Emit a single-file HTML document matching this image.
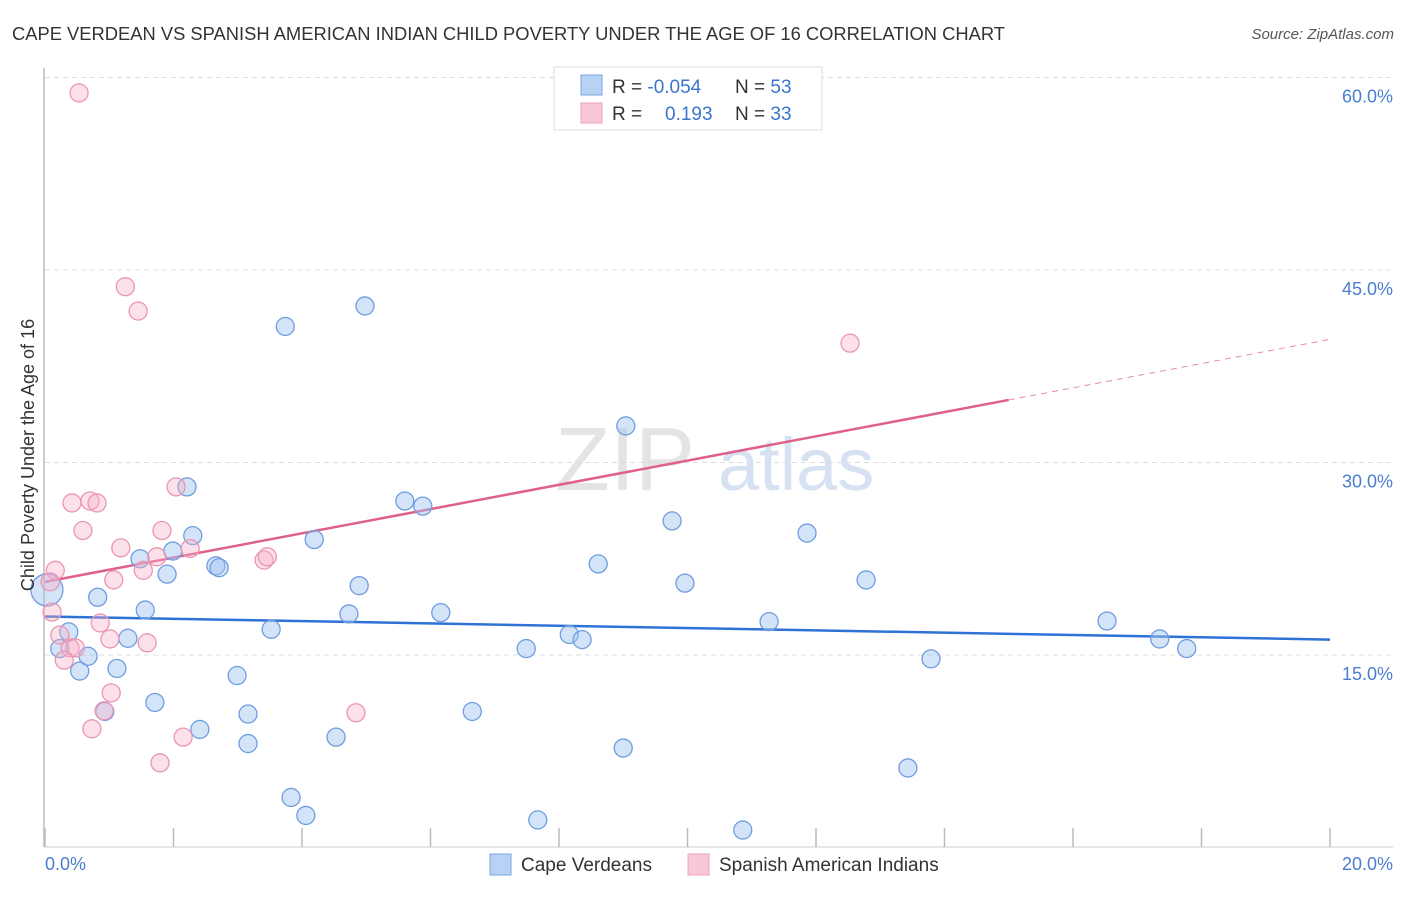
<!DOCTYPE html>
<html><head><meta charset="utf-8"><style>
body{margin:0;background:#fff;font-family:"Liberation Sans",sans-serif;}
svg text{font-family:"Liberation Sans",sans-serif;}
</style></head><body>
<svg id="chart" width="1406" height="892" xmlns="http://www.w3.org/2000/svg">
<text x="12" y="40" font-size="18" fill="#333" textLength="993" lengthAdjust="spacingAndGlyphs">CAPE VERDEAN VS SPANISH AMERICAN INDIAN CHILD POVERTY UNDER THE AGE OF 16 CORRELATION CHART</text>
<text x="1394" y="39" font-size="15" fill="#555" font-style="italic" text-anchor="end">Source: ZipAtlas.com</text>
<g>
<text x="555" y="490" font-size="90" fill="#e4e4e4" font-family="Liberation Serif">ZIP</text>
<text x="718" y="490" font-size="74" fill="#d6e2f2">atlas</text>
</g>
<g id="grid"></g>
<g id="axes"></g>
<g id="lines"></g>
<g id="points"></g>
<text transform="translate(34,455) rotate(-90)" font-size="18" fill="#333" text-anchor="middle">Child Poverty Under the Age of 16</text>
<text x="45" y="870" font-size="18" fill="#4a7fd0">0.0%</text>
<text x="1393" y="870" font-size="18" fill="#4a7fd0" text-anchor="end">20.0%</text>
<g>
<rect x="554" y="67" width="268" height="63" fill="#fff" stroke="#ddd"/>
<rect x="581" y="75" width="21" height="20" fill="#b8d2f3" stroke="#7aa5e3"/>
<rect x="581" y="103" width="21" height="20" fill="#f9c8d8" stroke="#eca0b8"/>
<text x="612" y="93" font-size="19" fill="#333">R = <tspan fill="#3b74cc">-0.054</tspan><tspan x="735">N = </tspan><tspan fill="#3b74cc">53</tspan></text>
<text x="612" y="120" font-size="19" fill="#333">R = <tspan x="665" fill="#3b74cc">0.193</tspan><tspan x="735">N = </tspan><tspan fill="#3b74cc">33</tspan></text>
</g>
<g>
<rect x="490" y="854" width="21" height="21" fill="#b8d2f3" stroke="#7aa5e3"/>
<text x="521" y="871" font-size="19" fill="#333">Cape Verdeans</text>
<rect x="688" y="854" width="21" height="21" fill="#f9c8d8" stroke="#eca0b8"/>
<text x="719" y="871" font-size="19" fill="#333">Spanish American Indians</text>
</g>
</svg>
<script>
const yTicks=[15,30,45,60];
const yTickLabels=["15.0%","30.0%","45.0%","60.0%"];
const xTicks=[0,2,4,6,8,10,12,14,16,18,20];
const blueX=[0.03,0.37,0.23,0.82,0.54,0.67,1.12,1.29,1.56,1.48,1.90,1.99,2.21,2.30,2.66,2.71,1.71,0.93,2.41,2.99,3.16,3.16,3.52,3.74,4.19,4.53,4.73,4.89,4.98,3.83,4.06,5.60,5.88,6.16,6.65,7.49,7.67,8.16,8.36,8.61,9.00,9.04,9.76,9.96,10.86,11.27,11.86,12.78,13.43,13.79,16.53,17.35,17.77];
const blueY=[20.07,16.8,15.5,19.5,13.75,14.9,13.95,16.3,18.5,22.5,21.3,23.1,28.1,24.3,21.95,21.8,11.3,10.6,9.2,13.4,10.4,8.1,17.0,40.6,24.0,8.6,18.2,20.4,42.2,3.9,2.5,27.0,26.6,18.3,10.6,15.5,2.15,16.6,16.2,22.1,7.75,32.85,25.45,20.6,1.36,17.6,24.5,20.85,6.2,14.7,17.65,16.25,15.5];
const pinkX=[0.53,1.25,1.45,2.04,0.42,0.70,0.81,0.59,1.18,1.82,2.26,1.74,1.53,1.07,0.16,0.08,0.11,0.86,0.23,1.01,1.59,0.39,0.47,0.30,1.03,0.92,0.73,2.15,1.79,4.84,3.41,3.46,12.53];
const pinkY=[58.8,43.7,41.8,28.1,26.85,27.0,26.85,24.7,23.35,24.7,23.3,22.65,21.6,20.85,21.6,20.7,18.35,17.5,16.55,16.25,15.95,15.55,15.55,14.6,12.05,10.65,9.25,8.6,6.6,10.5,22.4,22.65,39.3];
const blueTrend=[18.0,16.2];
const pinkTrend=[20.7,39.6];
const pinkSolidEnd=15.0;
const NS="http://www.w3.org/2000/svg";
const X=v=>45+v/20*1285;
const Y=v=>847.5-v/15*192.5;
function mk(tag,attrs,parent){const e=document.createElementNS(NS,tag);for(const k in attrs)e.setAttribute(k,attrs[k]);document.getElementById(parent).appendChild(e);return e;}
yTicks.forEach((t,i)=>{
 const l=mk('line',{x1:45,x2:1393,y1:Y(t),y2:Y(t),stroke:'#ddd','stroke-dasharray':'5,4'},'grid');
 
 
 const tx=mk('text',{x:1393,y:Y(t)+25,'font-size':18,fill:'#4a7fd0','text-anchor':'end'},'grid');
 tx.textContent=yTickLabels[i];
 
 
});
const ax=mk('line',{x1:44,x2:44,y1:68,y2:847,stroke:'#bbb','stroke-width':1.5},'axes');


const bx=mk('line',{x1:44,x2:1393,y1:847,y2:847,stroke:'#ccc','stroke-width':1},'axes');


xTicks.forEach(t=>{
 const l=mk('line',{x1:X(t),x2:X(t),y1:828,y2:847,stroke:'#bbb','stroke-width':1.5},'axes');
 
 
});
const bl=mk('line',{x1:X(0),x2:X(20),y1:Y(blueTrend[0]),y2:Y(blueTrend[1]),stroke:'#2f72d6','stroke-width':2.5},'lines');


const pAt=v=>pinkTrend[0]+(pinkTrend[1]-pinkTrend[0])*v/20;
const pl=mk('line',{x1:X(0),x2:X(pinkSolidEnd),y1:Y(pAt(0)),y2:Y(pAt(pinkSolidEnd)),stroke:'#e0608c','stroke-width':2.5},'lines');


const pd=mk('line',{x1:X(pinkSolidEnd),x2:X(20),y1:Y(pAt(pinkSolidEnd)),y2:Y(pAt(20)),stroke:'#e78aa8','stroke-width':1,'stroke-dasharray':'6,5'},'lines');


blueX.forEach((x,i)=>{
 const c=mk('circle',{cx:X(x),cy:Y(blueY[i]),r:i===0?16:9,fill:'rgba(160,195,240,0.45)',stroke:'#6e9de0','stroke-width':1.3},'points');
 
 
});
pinkX.forEach((x,i)=>{
 const c=mk('circle',{cx:X(x),cy:Y(pinkY[i]),r:9,fill:'rgba(246,175,200,0.38)',stroke:'#ea96b2','stroke-width':1.3},'points');
 
 
});
</script>
</body></html>
